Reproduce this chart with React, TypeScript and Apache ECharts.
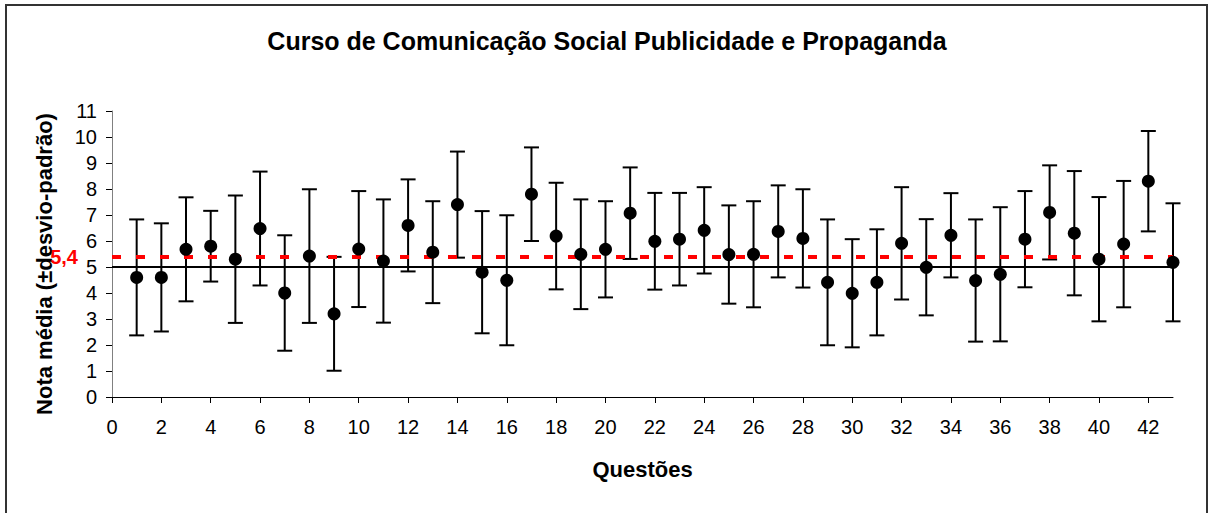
import React, { useEffect, useRef } from "react";
import * as echarts from "echarts";

const questions = [
  1, 2, 3, 4, 5, 6, 7, 8, 9, 10, 11, 12, 13, 14, 15, 16, 17, 18, 19, 20, 21,
  22, 23, 24, 25, 26, 27, 28, 29, 30, 31, 32, 33, 34, 35, 36, 37, 38, 39, 40,
  41, 42, 43,
];
const means = [
  4.6, 4.6, 5.68, 5.8, 5.3, 6.48, 4.0, 5.42, 3.2, 5.69, 5.23, 6.6, 5.57, 7.4,
  4.8, 4.49, 7.8, 6.19, 5.49, 5.68, 7.07, 5.99, 6.07, 6.41, 5.48, 5.49, 6.37,
  6.1, 4.41, 3.99, 4.41, 5.91, 4.99, 6.22, 4.48, 4.72, 6.07, 7.1, 6.3, 5.3,
  5.88, 8.3, 5.18,
];
const sds = [
  2.23, 2.08, 2.0, 1.36, 2.45, 2.19, 2.22, 2.57, 2.19, 2.23, 2.37, 1.77, 1.96,
  2.04, 2.35, 2.5, 1.8, 2.05, 2.11, 1.85, 1.76, 1.86, 1.78, 1.66, 1.89, 2.04,
  1.77, 1.89, 2.42, 2.08, 2.04, 2.16, 1.85, 1.62, 2.35, 2.58, 1.85, 1.81, 2.39,
  2.39, 2.43, 1.93, 2.27,
];
const xTickLabels = [
  0, 2, 4, 6, 8, 10, 12, 14, 16, 18, 20, 22, 24, 26, 28, 30, 32, 34, 36, 38,
  40, 42,
];
const overallMean = 5.4;
const overallMeanLabel = "5,4";
const referenceLine = 5;

export default function App() {
  const ref = useRef<HTMLDivElement>(null);

  useEffect(() => {
    if (!ref.current) return;
    const chart = echarts.init(ref.current, null, { renderer: "svg" });
    const font = "'Liberation Sans', Arial, sans-serif";
    const pointData = questions.map((q, i) => [q, means[i]]);
    const errData = questions.map((q, i) => [q, means[i] - sds[i], means[i] + sds[i]]);

    chart.setOption({
      animation: false,
      backgroundColor: "#ffffff",
      textStyle: { fontFamily: font },
      title: {
        text: "Curso de Comunicação Social Publicidade e Propaganda",
        left: "center",
        top: 23,
        textStyle: { fontFamily: font, fontSize: 25, fontWeight: "bold", color: "#000" },
      },
      graphic: [
        {
          type: "rect",
          shape: { x: 6, y: 5, width: 1201, height: 530 },
          style: { fill: "none", stroke: "#333", lineWidth: 2 },
          silent: true,
        },
      ],
      grid: { left: 112, right: 41, top: 111, bottom: 116, containLabel: false },
      xAxis: {
        type: "value",
        min: 0,
        max: 43,
        interval: 2,
        name: "Questões",
        nameLocation: "middle",
        nameGap: 61,
        nameTextStyle: { fontFamily: font, fontSize: 22, fontWeight: "bold", color: "#000" },
        axisLine: { show: true, onZero: false, lineStyle: { color: "#000", width: 1 } },
        axisTick: { show: true, length: 6, inside: false, customValues: xTickLabels, lineStyle: { color: "#000" } },
        axisLabel: { fontFamily: font, fontSize: 20, color: "#000", margin: 20, customValues: xTickLabels },
        splitLine: { show: false },
      },
      yAxis: {
        type: "value",
        min: 0,
        max: 11,
        interval: 1,
        name: "Nota média (±desvio-padrão)",
        nameLocation: "middle",
        nameGap: 57,
        nameTextStyle: {
          fontFamily: font,
          fontSize: 22,
          fontWeight: "bold",
          color: "#000",
          padding: [0, 20, 0, 0],
        },
        axisLine: { show: true, onZero: false, lineStyle: { color: "#808080", width: 1 } },
        axisTick: { show: true, length: 6, inside: false, lineStyle: { color: "#000" } },
        axisLabel: { fontFamily: font, fontSize: 20, color: "#000", margin: 15 },
        splitLine: { show: false },
      },
      series: [
        {
          type: "custom",
          name: "desvio",
          z: 3,
          data: errData,
          renderItem: (params: any, api: any) => {
            const x = api.value(0);
            const lo = api.coord([x, api.value(1)]);
            const hi = api.coord([x, api.value(2)]);
            const hw = 7.5;
            const style = { stroke: "#000", lineWidth: 2 };
            return {
              type: "group",
              children: [
                { type: "line", shape: { x1: lo[0], y1: lo[1], x2: hi[0], y2: hi[1] }, style },
                { type: "line", shape: { x1: lo[0] - hw, y1: lo[1], x2: lo[0] + hw, y2: lo[1] }, style },
                { type: "line", shape: { x1: hi[0] - hw, y1: hi[1], x2: hi[0] + hw, y2: hi[1] }, style },
              ],
            };
          },
        },
        {
          type: "scatter",
          name: "média",
          z: 5,
          symbol: "circle",
          symbolSize: 13,
          itemStyle: { color: "#000", opacity: 1 },
          data: pointData,
          markLine: {
            silent: true,
            symbol: "none",
            animation: false,
            data: [
              {
                yAxis: referenceLine,
                lineStyle: { color: "#000", width: 2, type: "solid" },
                label: { show: false },
              },
              {
                yAxis: overallMean,
                lineStyle: { color: "#ff0000", width: 4, type: [9, 15], dashOffset: 0 },
                label: {
                  show: true,
                  position: "start",
                  distance: 34,
                  formatter: overallMeanLabel,
                  color: "#ff0000",
                  fontWeight: "bold",
                  fontSize: 20,
                  fontFamily: font,
                },
              },
            ],
          },
        },
      ],
    });

    return () => chart.dispose();
  }, []);

  return (
    <div
      ref={ref}
      style={{ position: "absolute", left: 0, top: 0, width: 1214, height: 513, background: "#fff" }}
    />
  );
}
